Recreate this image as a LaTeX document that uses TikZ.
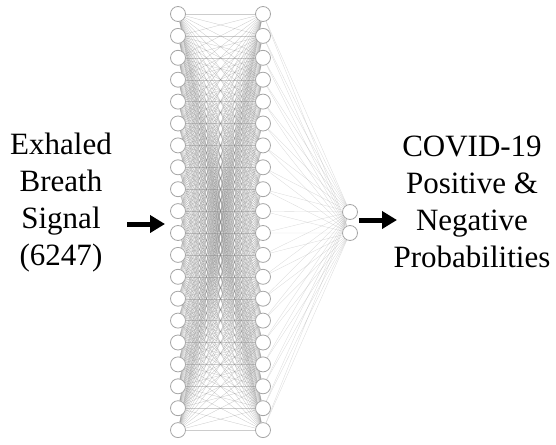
\documentclass[tikz,border=0pt]{standalone}
\usepackage{fontspec}
\setmainfont{Liberation Serif}
\usetikzlibrary{arrows.meta,backgrounds}
\begin{document}
\begin{tikzpicture}[x=1pt,y=-1pt,
  neuron/.style={circle,draw=black!35,line width=0.8pt,fill=white,minimum size=15pt,inner sep=0pt},
  edge/.style={draw=black!50,line width=0.35pt,opacity=0.4},
  outedge/.style={draw=black!40,line width=0.35pt,opacity=0.35},
  bigarrow/.style={line width=5pt,-{Triangle[length=15pt,width=17pt]}},
  lbl/.style={align=center,font=\fontsize{31}{37}\selectfont,inner sep=0pt}]
\useasboundingbox (0,0) rectangle (556,444);
\foreach \i in {1,...,20}{
  \node[neuron] (a\i) at (178,{14+21.9*(\i-1)}) {};
  \node[neuron] (b\i) at (263,{14+21.9*(\i-1)}) {};
}
\node[neuron] (o1) at (350,212) {};
\node[neuron] (o2) at (350,233) {};
\begin{pgfonlayer}{background}
\foreach \i in {1,...,20}{
  \foreach \j in {1,...,20}{
    \draw[edge] (a\i) -- (b\j);
  }
  \draw[outedge] (b\i) -- (o1);
  \draw[outedge] (b\i) -- (o2);
}
\end{pgfonlayer}
\node[lbl] (inp) at (61,203) {Exhaled\\Breath\\Signal\\(6247)};
\node[lbl] (out) at (472,202) {COVID-19\\Positive \&\\Negative\\Probabilities};
\coordinate (l1) at (127,224);
\coordinate (l2) at (165,224);
\coordinate (r1) at (359,220);
\coordinate (r2) at (397,220);
\draw[bigarrow] (l1) -- (l2);
\draw[bigarrow] (r1) -- (r2);
\end{tikzpicture}
\end{document}
